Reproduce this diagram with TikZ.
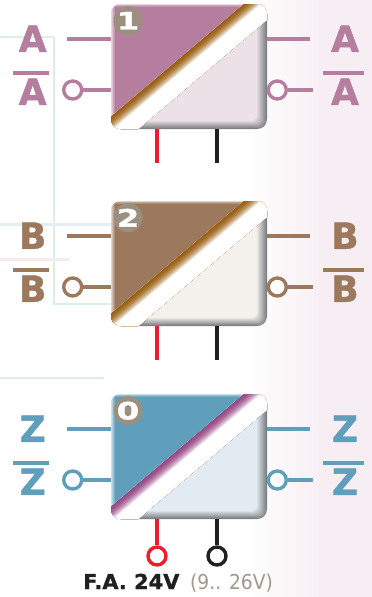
\documentclass[tikz,border=0pt]{standalone}
\usepackage{xcolor}
\usepackage{fontspec}
\setmainfont{DejaVu Sans}
\newfontfamily\heavyfont[FakeBold=1.2]{DejaVu Sans Bold}

\definecolor{pagepink}{HTML}{F7EEF3}
\definecolor{shadowgray}{HTML}{7C7F83}
\definecolor{gridgreen}{HTML}{DDEEE5}
\definecolor{gridblue}{HTML}{E3EEF3}
\definecolor{gridpink}{HTML}{F8E9EF}
\definecolor{mauve}{HTML}{B57E9F}
\definecolor{mauvelite}{HTML}{ECE1E7}
\definecolor{umber}{HTML}{9C785C}
\definecolor{umberlite}{HTML}{F4F1ED}
\definecolor{zblue}{HTML}{5F9FBB}
\definecolor{zbluelite}{HTML}{E1EBF1}
\definecolor{brownband}{HTML}{9B6114}
\definecolor{purpleband}{HTML}{9A4A85}
\definecolor{badgegray}{HTML}{9B9080}
\definecolor{wirered}{HTML}{ED1C2E}
\definecolor{wireblack}{HTML}{231F20}
\definecolor{rangegray}{HTML}{A09888}

\tikzset{
    blockbox/.style={rectangle, minimum width=156pt, minimum height=125pt, inner sep=0pt, rounded corners=9pt},
    badge/.style={circle, fill=badgegray, minimum size=29pt, inner sep=0pt, text=white, font=\fontsize{24}{24}\selectfont\heavyfont},
    sigtext/.style={inner sep=0pt, font=\fontsize{36}{36}\selectfont\heavyfont},
    sigwire/.style={line width=4pt},
    sigbar/.style={line width=4pt},
    bubble/.style={circle, draw, fill=white, line width=3.4pt, minimum size=18pt, inner sep=0pt},
    supply/.style={line width=4pt}
}

\begin{document}
\begin{tikzpicture}[x=1pt, y=-1pt]
    \useasboundingbox (0,0) rectangle (372,597);

    % Background
    \shade[left color=white, right color=pagepink] (245,0) rectangle (325,597);
    \fill[pagepink] (325,0) rectangle (372,597);
    \draw[gridgreen, line width=2pt] (0,37) -- (54,37) -- (54,304) -- (111,304);
    \draw[gridblue, line width=3pt] (0,224) -- (111,224);
    \draw[gridpink, line width=3pt] (0,259) -- (69,259);
    \draw[gridgreen, line width=2pt] (0,378) -- (104,378);

    % Blocks
    \foreach \name/\yy/\main/\lite/\band/\num/\sig in {
        one/0/mauve/mauvelite/brownband/1/A,
        two/197/umber/umberlite/brownband/2/B,
        zero/390/zblue/zbluelite/purpleband/0/Z} {
    \begin{scope}[shift={(0,\yy)}]
        \begin{scope}
            \clip[rounded corners=10pt] (111,4) rectangle (267,129);
            \foreach \s [evaluate=\s as \pc using \s*10] in {0,...,10}
                \fill[\lite!\pc!shadowgray, rounded corners=6pt] (90,-10) rectangle ({267-\s},{129-\s*0.8});
            \foreach \s [evaluate=\s as \pc using 100-\s*\s/4] in {0,...,20}
                \fill[\band!\pc!white] ({82.7+\s*0.9},140) -- ({259.6+\s*0.9},-10) -- (302.1,-10) -- (125.2,140) -- cycle;
            \begin{scope}
                \clip (80,-10) -- (259.6,-10) -- (82.7,140) -- (80,140) -- cycle;
                \foreach \s [evaluate=\s as \pc using 15+\s*17] in {0,...,5}
                    \fill[\main!\pc!white] ({110+\s},{3+\s*0.8}) rectangle (300,200);
            \end{scope}
        \end{scope}
        \node[blockbox] (\name) at (189,66.5) {};
        \node[badge] (\name badge) at (128,20.7) {\scalebox{1.35}[1]{\num}};

        % Left side
        \node[sigtext, text=\main] (\name la) at (32.7,38.7) {\sig};
        \node[sigtext, text=\main] (\name lb) at (32.7,91.7) {\sig};
        \draw[sigbar, \main] (13,73) -- (49,73);
        \coordinate (\name lp) at (67,39);
        \node[bubble, draw=\main] (\name ln) at (72.7,90) {};
        \draw[sigwire, \main] (\name lp) -- (\name lp -| \name.west);
        \draw[sigwire, \main] (\name ln) -- (\name ln -| \name.west);

        % Right side
        \node[sigtext, text=\main] (\name ra) at (345,38.7) {\sig};
        \node[sigtext, text=\main] (\name rb) at (345,91.7) {\sig};
        \draw[sigbar, \main] (323,73) -- (364,73);
        \coordinate (\name rp) at (310,39);
        \coordinate (\name rn) at (313,90);
        \node[bubble, draw=\main] (\name rc) at (277.3,90) {};
        \draw[sigwire, \main] (\name rp -| \name.east) -- (\name rp);
        \draw[sigwire, \main] (\name rc) -- (\name rn);
    \end{scope}
    }

    % Supply wires
    \foreach \name/\yy in {one/0, two/197} {
        \coordinate (\name vp) at (157,{163+\yy});
        \coordinate (\name vn) at (217,{163+\yy});
        \draw[supply, wirered] (\name vp |- \name.south) -- (\name vp);
        \draw[supply, wireblack] (\name vn |- \name.south) -- (\name vn);
    }
    \node[bubble, draw=wirered] (vplus) at (157,556) {};
    \node[bubble, draw=wireblack] (vminus) at (217,556) {};
    \draw[supply, wirered] (vplus |- zero.south) -- (vplus);
    \draw[supply, wireblack] (vminus |- zero.south) -- (vminus);

    % Supply label
    \node[inner sep=0pt, anchor=base west, text=wireblack, font=\fontsize{20.5}{20.5}\selectfont\heavyfont] (falabel) at (83,589) {\scalebox{1.02}[1]{F.A. 24V}};
    \node[inner sep=0pt, anchor=base west, text=rangegray, font=\fontsize{20.5}{20.5}\selectfont] (rangelabel) at (190,589) {\scalebox{.91}[1]{(9.. 26V)}};
\end{tikzpicture}
\end{document}
